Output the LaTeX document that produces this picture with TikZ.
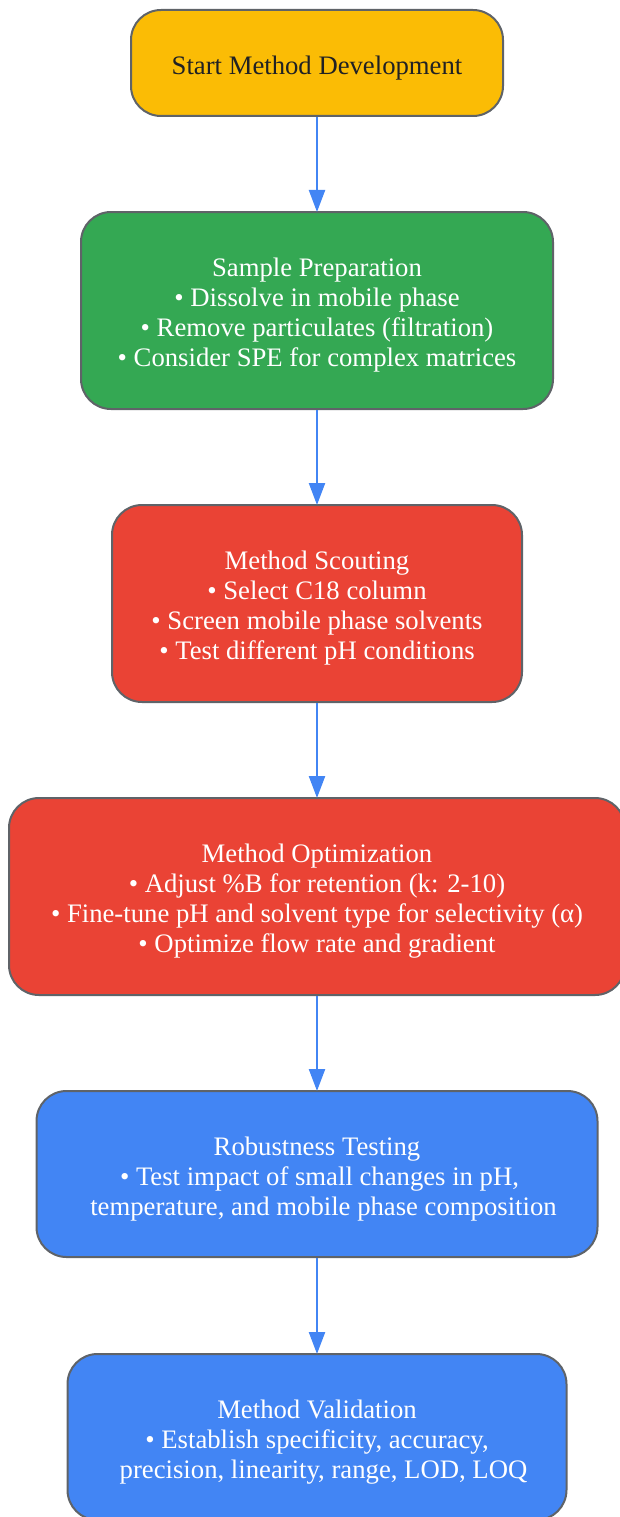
\documentclass[tikz,border=0pt]{standalone}
\usepackage{fontspec}
\setmainfont{Liberation Serif}
\usetikzlibrary{arrows.meta}
\definecolor{cyellow}{HTML}{FBBC05}
\definecolor{cgreen}{HTML}{34A853}
\definecolor{cred}{HTML}{EA4335}
\definecolor{cblue}{HTML}{4285F4}
\definecolor{cborder}{HTML}{5F6368}
\definecolor{cdark}{HTML}{202124}
\begin{document}
\begin{tikzpicture}[x=1pt,y=-1pt,
  stepbox/.style={draw=cborder, line width=2pt, rounded corners=30pt, inner sep=0pt},
  steptext/.style={align=center, font=\fontsize{26.7}{30}\selectfont, inner sep=0pt, text=white, yshift=-5pt},
  flow/.style={draw=cblue, line width=2.3pt, -{Triangle[length=22pt,width=16pt]}}]
\useasboundingbox (0,0) rectangle (620,1517);
\begin{scope}
\clip (0,0) rectangle (620,1517);
\node[stepbox, fill=cyellow, minimum width=372pt, minimum height=106pt,
  label={[steptext, text=cdark]center:Start Method Development}] (start) at (317,63) {};
\node[stepbox, fill=cgreen, minimum width=472pt, minimum height=197pt,
  label={[steptext]center:{Sample Preparation\\ • Dissolve in mobile phase\\ • Remove particulates (filtration)\\ • Consider SPE for complex matrices}}] (prep) at (317,310.5) {};
\node[stepbox, fill=cred, minimum width=410pt, minimum height=197pt,
  label={[steptext]center:{Method Scouting\\ • Select C18 column\\ • Screen mobile phase solvents\\ • Test different pH conditions}}] (scout) at (317,603.5) {};
\node[stepbox, fill=cred, minimum width=616pt, minimum height=197pt,
  label={[steptext]center:{Method Optimization\\ • Adjust \%B for retention (k: 2-10)\\ • Fine-tune pH and solvent type for selectivity (α)\\ • Optimize flow rate and gradient}}] (opt) at (317,896.5) {};
\node[stepbox, fill=cblue, minimum width=561pt, minimum height=166pt,
  label={[steptext]center:{Robustness Testing\\ \hspace*{5pt}• Test impact of small changes in pH,\\ \hspace*{13pt}temperature, and mobile phase composition}}] (robust) at (317,1174) {};
\node[stepbox, fill=cblue, minimum width=499pt, minimum height=166pt,
  label={[steptext]center:{Method Validation\\ • Establish specificity, accuracy,\\ \hspace*{13pt}precision, linearity, range, LOD, LOQ}}] (valid) at (317,1437) {};
\draw[flow] (start.south) -- ([yshift=-1pt]prep.north);
\draw[flow] (prep.south) -- ([yshift=-1pt]scout.north);
\draw[flow] (scout.south) -- ([yshift=-1pt]opt.north);
\draw[flow] (opt.south) -- ([yshift=-1pt]robust.north);
\draw[flow] (robust.south) -- ([yshift=-1pt]valid.north);
\end{scope}
\end{tikzpicture}
\end{document}
